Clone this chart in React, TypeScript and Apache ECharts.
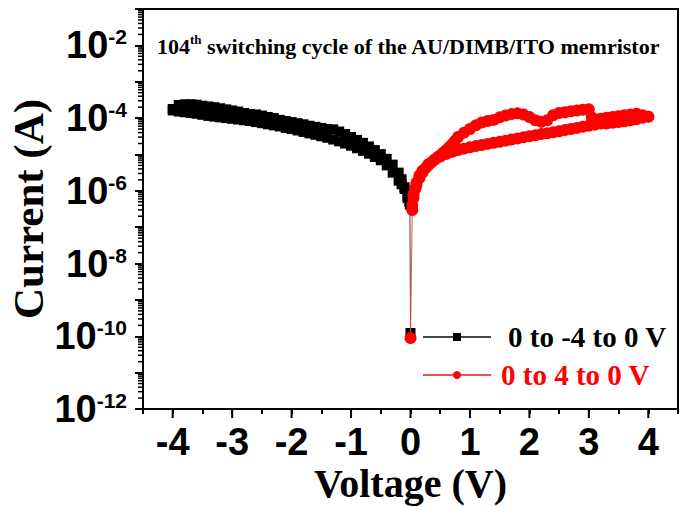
import { useEffect, useRef } from 'react';
import * as echarts from 'echarts';

// I–V sweeps of the memristor, stored as [voltage (V), log10(current / A)]
const blackSweepOut: [number, number][] = [
  [0, -9.91], [-0.01, -6.38], [-0.05, -6.2], [-0.1, -5.95], [-0.15, -5.82], [-0.2, -5.72],
  [-0.3, -5.5], [-0.4, -5.3], [-0.5, -5.16], [-0.6, -5.07], [-0.7, -4.98], [-0.8, -4.9],
  [-0.9, -4.83], [-1.0, -4.76], [-1.1, -4.7], [-1.2, -4.64], [-1.3, -4.59], [-1.4, -4.54],
  [-1.5, -4.5], [-1.6, -4.46], [-1.7, -4.42], [-1.8, -4.38], [-1.9, -4.34], [-2.0, -4.3],
  [-2.1, -4.27], [-2.2, -4.23], [-2.3, -4.2], [-2.4, -4.17], [-2.5, -4.14], [-2.6, -4.11],
  [-2.7, -4.08], [-2.8, -4.06], [-2.9, -4.04], [-3.0, -4.02], [-3.1, -4.0], [-3.2, -3.98],
  [-3.3, -3.96], [-3.4, -3.94], [-3.5, -3.91], [-3.6, -3.88], [-3.7, -3.86], [-3.8, -3.84],
  [-3.9, -3.82], [-4.0, -3.79],
];

const blackSweepBack: [number, number][] = [
  [-4.0, -3.75], [-3.9, -3.64], [-3.8, -3.62], [-3.7, -3.62], [-3.6, -3.63], [-3.5, -3.66],
  [-3.4, -3.68], [-3.3, -3.7], [-3.2, -3.73], [-3.1, -3.76], [-3.0, -3.79], [-2.9, -3.82],
  [-2.8, -3.86], [-2.7, -3.89], [-2.6, -3.9], [-2.5, -3.93], [-2.4, -3.97], [-2.3, -4.0],
  [-2.2, -4.05], [-2.1, -4.08], [-2.0, -4.11], [-1.9, -4.14], [-1.8, -4.17], [-1.7, -4.21],
  [-1.6, -4.24], [-1.5, -4.27], [-1.4, -4.3], [-1.3, -4.31], [-1.2, -4.37], [-1.1, -4.44],
  [-1.0, -4.52], [-0.9, -4.6], [-0.8, -4.68], [-0.7, -4.78], [-0.6, -4.88], [-0.5, -4.99],
  [-0.4, -5.12], [-0.3, -5.28], [-0.2, -5.5], [-0.15, -5.68], [-0.1, -5.9], [-0.05, -6.15],
  [-0.02, -6.3],
];

const redSweepOut: [number, number][] = [
  [0, -10.05], [0.03, -6.53], [0.05, -6.2], [0.08, -5.95], [0.1, -5.85], [0.15, -5.65],
  [0.2, -5.5], [0.25, -5.38], [0.3, -5.3], [0.35, -5.22], [0.4, -5.15], [0.45, -5.08],
  [0.5, -5.03], [0.55, -4.95], [0.6, -4.88], [0.65, -4.8], [0.7, -4.72], [0.75, -4.62],
  [0.8, -4.52], [0.9, -4.4], [1.0, -4.3], [1.1, -4.2], [1.2, -4.12], [1.3, -4.08],
  [1.4, -4.05], [1.5, -3.98], [1.6, -3.93], [1.7, -3.89], [1.8, -3.87], [1.9, -3.9],
  [2.0, -3.97], [2.1, -4.06], [2.2, -4.1], [2.3, -4.06], [2.4, -3.92], [2.5, -3.86],
  [2.6, -3.84], [2.7, -3.81], [2.8, -3.79], [2.9, -3.77], [3.0, -3.76], [3.05, -3.98],
  [3.1, -4.06], [3.2, -4.02], [3.3, -3.99], [3.4, -3.97], [3.5, -3.95], [3.6, -3.92],
  [3.7, -3.9], [3.8, -3.88], [3.9, -3.92], [4.0, -3.96],
];

const redSweepBack: [number, number][] = [
  [4.0, -3.96], [3.9, -3.99], [3.8, -4.03], [3.7, -4.06], [3.6, -4.09], [3.5, -4.11],
  [3.4, -4.13], [3.3, -4.15], [3.2, -4.15], [3.1, -4.18], [3.0, -4.21], [2.9, -4.24],
  [2.8, -4.27], [2.7, -4.3], [2.6, -4.33], [2.5, -4.36], [2.4, -4.39], [2.3, -4.42],
  [2.2, -4.44], [2.1, -4.47], [2.0, -4.5], [1.9, -4.53], [1.8, -4.56], [1.7, -4.59],
  [1.6, -4.62], [1.5, -4.65], [1.4, -4.68], [1.3, -4.71], [1.2, -4.74], [1.1, -4.77],
  [1.0, -4.8], [0.9, -4.84], [0.8, -4.88], [0.7, -4.93], [0.6, -4.99], [0.5, -5.06],
  [0.4, -5.15], [0.3, -5.27], [0.2, -5.45], [0.15, -5.58], [0.1, -5.78], [0.05, -6.1],
  [0.03, -6.4],
];

const seriesNames = ['0 to -4 to 0 V', '0 to 4 to 0 V'];

// Axis ranges: voltage in V, current in decades (log10 A)
const xRange = [-4.5, 4.5];
const yRange = [-12, -1];
const xMajorTicks = [-4, -3, -2, -1, 0, 1, 2, 3, 4];

// Logarithmic minor ticks (2·10^n … 9·10^n) for the current axis
const yMinorTicks: number[] = [];
for (let e = yRange[0]; e < yRange[1]; e++) {
  for (let k = 2; k <= 9; k++) yMinorTicks.push(e + Math.log10(k));
}

const SERIF = '"Liberation Serif", "Times New Roman", serif';
const SANS = '"Liberation Sans", Arial, sans-serif';

export default function App() {
  const ref = useRef<HTMLDivElement>(null);

  useEffect(() => {
    const chart = echarts.init(ref.current!, null, { renderer: 'svg' });

    const option: echarts.EChartsOption = {
      animation: false,
      backgroundColor: '#fff',
      title: {
        text: '{a|104}{s|th}{a| switching cycle of the AU/DIMB/ITO memristor}',
        left: 157,
        top: 33,
        padding: 0,
        textStyle: {
          rich: {
            a: { fontFamily: SERIF, fontWeight: 'bold', fontSize: 22, color: '#000', lineHeight: 26 },
            s: { fontFamily: SERIF, fontWeight: 'bold', fontSize: 13, color: '#000', verticalAlign: 'top', lineHeight: 14 },
          },
        },
      },
      legend: {
        orient: 'vertical',
        left: 422,
        top: 322,
        padding: 0,
        itemWidth: 68,
        itemHeight: 10,
        itemGap: 8,
        data: [
          { name: seriesNames[0], textStyle: { color: '#000', padding: [0, 0, 0, 12] } },
          { name: seriesNames[1], textStyle: { color: '#ff0000', padding: [0, 0, 0, 5] } },
        ],
        textStyle: { fontFamily: SERIF, fontWeight: 'bold', fontSize: 29, lineHeight: 30 },
      },
      grid: {
        left: 143,
        top: 9,
        width: 535,
        height: 400,
        show: true,
        borderColor: '#000',
        borderWidth: 2,
        backgroundColor: 'transparent',
        containLabel: false,
        outerBoundsMode: 'none',
      } as any,
      xAxis: {
        type: 'value',
        min: xRange[0],
        max: xRange[1],
        interval: 0.5,
        axisLine: { show: true, onZero: false, lineStyle: { color: '#000', width: 2 } },
        axisTick: { show: true, length: 5, lineStyle: { color: '#000', width: 2 } },
        splitLine: { show: false },
        axisLabel: {
          formatter: (v: number) => (Number.isInteger(v) ? String(v) : ''),
          fontFamily: SANS,
          fontWeight: 'bold',
          fontSize: 38,
          color: '#000',
          margin: 14,
        },
        name: 'Voltage (V)',
        nameLocation: 'middle',
        nameGap: 54,
        nameMoveOverlap: false,
        nameTextStyle: { fontFamily: SERIF, fontWeight: 'bold', fontSize: 40, color: '#000' },
      } as any,
      yAxis: {
        type: 'value',
        min: yRange[0],
        max: yRange[1],
        interval: 1,
        axisLine: { show: true, onZero: false, lineStyle: { color: '#000', width: 2 } },
        axisTick: { show: true, inside: false, length: 8, lineStyle: { color: '#000', width: 2 } },
        splitLine: { show: false },
        axisLabel: {
          formatter: (v: number) => (v % 2 === 0 ? `{b|10}{s|${v}}` : ''),
          margin: 16,
          rich: {
            b: { fontFamily: SANS, fontWeight: 'bold', fontSize: 38, color: '#000', lineHeight: 38 },
            s: { fontFamily: SANS, fontWeight: 'bold', fontSize: 21, color: '#000', verticalAlign: 'top', lineHeight: 20 },
          },
        },
        name: 'Current (A)',
        nameLocation: 'middle',
        nameRotate: 90,
        nameGap: 93,
        nameMoveOverlap: false,
        nameTextStyle: { fontFamily: SERIF, fontWeight: 'bold', fontSize: 43, color: '#000' },
      } as any,
      series: [
        {
          name: seriesNames[0],
          type: 'line',
          data: [...blackSweepOut, ...blackSweepBack],
          symbol: 'rect',
          symbolSize: 10,
          showAllSymbol: true,
          itemStyle: { color: '#000' },
          lineStyle: { color: '#444', width: 1 },
          z: 3,
        },
        {
          name: seriesNames[1],
          type: 'line',
          data: [...redSweepOut, ...redSweepBack],
          symbol: 'circle',
          symbolSize: 12,
          showAllSymbol: true,
          itemStyle: { color: '#ff0000' },
          lineStyle: { color: '#f05050', width: 1 },
          z: 4,
        },
        {
          type: 'custom',
          silent: true,
          clip: false,
          data: yMinorTicks.map((v) => [xRange[0], v]),
          renderItem: (_params: any, api: any) => {
            const p = api.coord([api.value(0), api.value(1)]);
            return {
              type: 'line',
              shape: { x1: p[0] - 5, y1: p[1], x2: p[0], y2: p[1] },
              style: { stroke: '#000', lineWidth: 1.5 },
            };
          },
          z: 5,
        },
        {
          type: 'custom',
          silent: true,
          clip: false,
          data: xMajorTicks.map((v) => [v, yRange[0]]),
          renderItem: (_params: any, api: any) => {
            const p = api.coord([api.value(0), api.value(1)]);
            return {
              type: 'line',
              shape: { x1: p[0], y1: p[1], x2: p[0], y2: p[1] + 9 },
              style: { stroke: '#000', lineWidth: 2 },
            };
          },
          z: 5,
        },
      ],
    };

    chart.setOption(option);
    return () => chart.dispose();
  }, []);

  return (
    <div
      ref={ref}
      style={{ position: 'fixed', left: 0, top: 0, width: 680, height: 507, background: '#fff' }}
    />
  );
}
